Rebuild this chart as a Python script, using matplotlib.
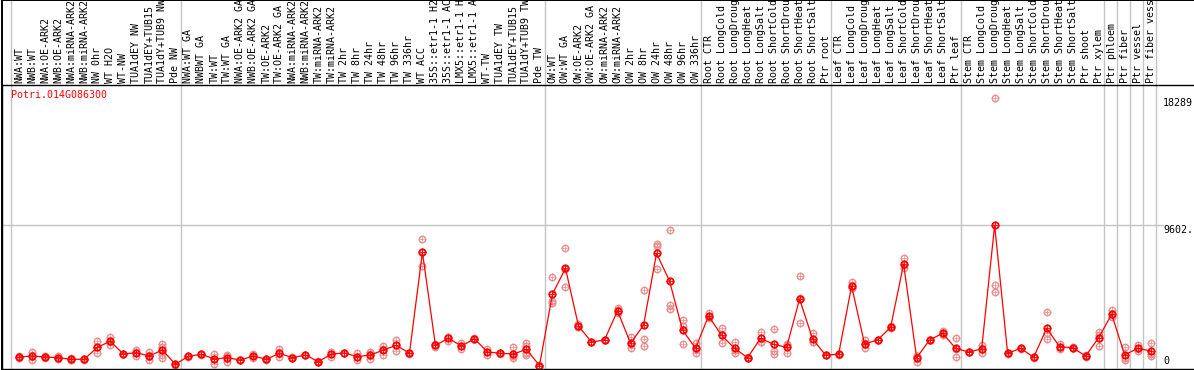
#!/usr/bin/env python3
"""Expression profile of Potri.014G086300 across poplar samples."""

import matplotlib

matplotlib.use("Agg")
import matplotlib.pyplot as plt
import matplotlib.transforms as mtransforms
from matplotlib.patches import Rectangle

GENE = "Potri.014G086300"

samples = [
    "NWA:WT", "NWB:WT", "NWA:OE-ARK2", "NWB:OE-ARK2", "NWA:miRNA-ARK2",
    "NWB:miRNA-ARK2", "NW 0hr", "WT H2O", "WT-NW", "TUA1dEY NW",
    "TUA1dEY+TUB15", "TUA1dY+TUB9 NW", "Pde NW",
    "NWA:WT GA", "NWBWT GA", "TW:WT", "TW:WT GA", "NWA:OE-ARK2 GA",
    "NWB:OE-ARK2 GA", "TW:OE-ARK2", "TW:OE-ARK2 GA", "NWA:miRNA-ARK2",
    "NWB:miRNA-ARK2", "TW:miRNA-ARK2", "TW:miRNA-ARK2", "TW 2hr", "TW 8hr",
    "TW 24hr", "TW 48hr", "TW 96hr", "TW 336hr", "WT ACC", "35S::etr1-1 H2O",
    "35S::etr1-1 ACC", "LMX5::etr1-1 H2O", "LMX5::etr1-1 ACC", "WT-TW",
    "TUA1dEY TW", "TUA1dEY+TUB15", "TUA1dY+TUB9 TW", "Pde TW",
    "OW:WT", "OW:WT GA", "OW:OE-ARK2", "OW:OE-ARK2 GA", "OW:miRNA-ARK2",
    "OW:miRNA-ARK2", "OW 2hr", "OW 8hr", "OW 24hr", "OW 48hr", "OW 96hr",
    "OW 336hr",
    "Root CTR", "Root LongCold", "Root LongDrought", "Root LongHeat",
    "Root LongSalt", "Root ShortCold", "Root ShortDrought", "Root ShortHeat",
    "Root ShortSalt", "Ptr root",
    "Leaf CTR", "Leaf LongCold", "Leaf LongDrought", "Leaf LongHeat",
    "Leaf LongSalt", "Leaf ShortCold", "Leaf ShortDrought", "Leaf ShortHeat",
    "Leaf ShortSalt", "Ptr leaf",
    "Stem CTR", "Stem LongCold", "Stem LongDrought", "Stem LongHeat",
    "Stem LongSalt", "Stem ShortCold", "Stem ShortDrought", "Stem ShortHeat",
    "Stem ShortSalt", "Ptr shoot", "Ptr xylem",
    "Ptr phloem", "Ptr fiber", "Ptr vessel", "Ptr fiber vessel",
]

group_sizes = [13, 28, 12, 10, 10, 11, 1, 1, 1, 1]

means = [
    595, 663, 595, 547, 438, 438, 1259, 1669, 800, 889, 663, 1074, 96,
    643, 780, 458, 547, 390, 663, 438, 848, 547, 732, 274, 800, 869, 616,
    732, 1074, 1395, 848, 7757, 1395, 1874, 1347, 1847, 937, 848, 800,
    1122, 10,
    4904, 6662, 2715, 1621, 1758, 3762, 1532, 2763, 7688, 5793, 2442, 1190,
    3399, 2079, 1190, 547, 1874, 1464, 1259, 4562, 1826, 732,
    780, 5451, 1484, 1758, 2627, 6956, 547, 1758, 2216, 1190,
    937, 1142, 9602, 848, 1190, 575, 2558, 1300, 1231, 663, 1915,
    3516, 732, 1190, 1005,
]

replicates = [
    [640, 560, 595], [917, 390, 680], [663, 506, 610], [663, 438, 540],
    [547, 390, 420], [470, 400, 440], [1710, 1300, 889], [1984, 1395, 1630],
    [820, 780, 800], [1074, 663, 930], [917, 390, 680],
    [1484, 1300, 958, 732, 547], [96, 80, 110],
    [643, 620, 660], [780, 800, 760], [780, 116, 478], [711, 274, 656],
    [390, 370, 410], [800, 547, 640], [438, 420, 456], [1122, 616, 806],
    [547, 530, 565], [760, 700, 735], [274, 260, 290], [958, 616, 826],
    [869, 850, 890], [889, 390, 570], [958, 458, 780], [1347, 732, 1143],
    [1758, 1005, 1422], [848, 830, 866], [8666, 6819, 7786],
    [1484, 1300, 1400], [1943, 1710, 1969], [1573, 1122, 1346],
    [1847, 1820, 1874], [1122, 732, 957], [848, 830, 866], [1259, 506, 635],
    [1532, 1347, 732, 877], [10, 5, 15],
    [6047, 4268, 4397], [8030, 5363, 6593], [2852, 2650, 2643],
    [1621, 1600, 1642], [1758, 1730, 1786], [3926, 3584, 3776],
    [1943, 1190, 1463], [5178, 1826, 1347], [8324, 8188, 6645],
    [9282, 4152, 3858], [3126, 2715, 1464], [1532, 889, 1149],
    [3625, 3300, 3272], [2599, 1532, 2106], [1642, 848, 1080],
    [547, 530, 565], [2326, 1642, 1654], [2510, 1005, 780],
    [1416, 889, 1472], [6135, 2900, 4651], [2216, 1642, 1620],
    [732, 715, 750],
    [780, 760, 800], [5746, 5300, 5307], [1758, 1190, 1504],
    [1758, 1740, 1776], [2700, 2560, 2621], [7346, 6662, 6860],
    [274, 680, 687], [1758, 1740, 1776], [2394, 2100, 2154],
    [1874, 575, 1121],
    [960, 915, 937], [1416, 889, 1121], [18289, 5520, 5062], [900, 800, 845],
    [1230, 1150, 1190], [620, 530, 575], [3653, 1806, 2215],
    [1450, 1150, 1300], [1280, 1190, 1223], [700, 620, 669],
    [2285, 1368, 2092],
    [3810, 3300, 3438], [1300, 390, 506], [1400, 1000, 1170],
    [1532, 663, 820],
]

y_ticks = [0, 9602, 18289]
y_tick_labels = ["0", "9602.", "18289"]

FONT = "DejaVu Sans Mono"
FS = 7.2
RED = "#ff0000"
PINK = "#ea8c8c"
GRID = "#c4c4c4"

W, H = 1194, 370
fig = plt.figure(figsize=(W / 100, H / 100), dpi=100)
# plot area: from x=2px to the right edge, y=85px (top) to 369px (bottom)
ax = fig.add_axes([2 / W, 1 / H, (W - 2) / W, 284 / H])
ax.set_xlim(-1.33, 90.33)
ax.set_ylim(-226, 19200)
ax.set_xticks([])
ax.set_yticks([])
ax.spines["right"].set_visible(False)
for side in ("left", "top", "bottom"):
    ax.spines[side].set_linewidth(1.0)

x = list(range(len(samples)))

# group separators (run up through the label strip)
top_frac = 1 + 85 / 284
pos = -1
ax.axvline(-0.6, ymin=0, ymax=top_frac, color=GRID, lw=1.0, clip_on=False)
for size in group_sizes:
    pos += size
    ax.axvline(pos + 0.4, ymin=0, ymax=top_frac, color=GRID, lw=1.0, clip_on=False)

ax.hlines(y_ticks[1], -1.33, 88.0, color=GRID, lw=1.0)

# replicates
for xi, reps in zip(x, replicates):
    ax.plot([xi] * len(reps), reps, linestyle="none", marker="o", ms=4.6,
            mfc="none", mec=PINK, mew=1.0)
    ax.plot([xi] * len(reps), reps, linestyle="none", marker="+", ms=5.8,
            mec=PINK, mew=0.5)

# mean profile
ax.plot(x, means, color=RED, lw=0.9)
ax.plot(x, means, linestyle="none", marker="o", ms=4.6, mfc="none",
        mec=RED, mew=1.3)
ax.plot(x, means, linestyle="none", marker="+", ms=6.2, mec=RED, mew=0.6)

# sample labels above the plot (long ones run off the top, as in the source)
lab_tr = mtransforms.blended_transform_factory(ax.transData, ax.transAxes)
for xi, name in zip(x, samples):
    ax.text(xi, 1 + 2 / 284, name, transform=lab_tr, rotation=90,
            ha="center", va="bottom", family=FONT, fontsize=FS, clip_on=False)

# y value labels on the right
ax.text(87.95, y_ticks[2], y_tick_labels[2], ha="left", va="top",
        family=FONT, fontsize=FS)
ax.text(87.95, y_ticks[1], y_tick_labels[1], ha="left", va="top",
        family=FONT, fontsize=FS)
ax.text(87.95, y_ticks[0], y_tick_labels[0], ha="left", va="bottom",
        family=FONT, fontsize=FS)

ax.text(-0.6, 0.965, GENE, transform=lab_tr, color=RED, ha="left",
        va="center", family=FONT, fontsize=FS)

# outer frame around the label strip
fig.add_artist(Rectangle((1.5 / W, 0), 1, 1, transform=fig.transFigure,
                         fill=False, edgecolor="black", lw=1.4))

fig.savefig("out.png", dpi=100)
